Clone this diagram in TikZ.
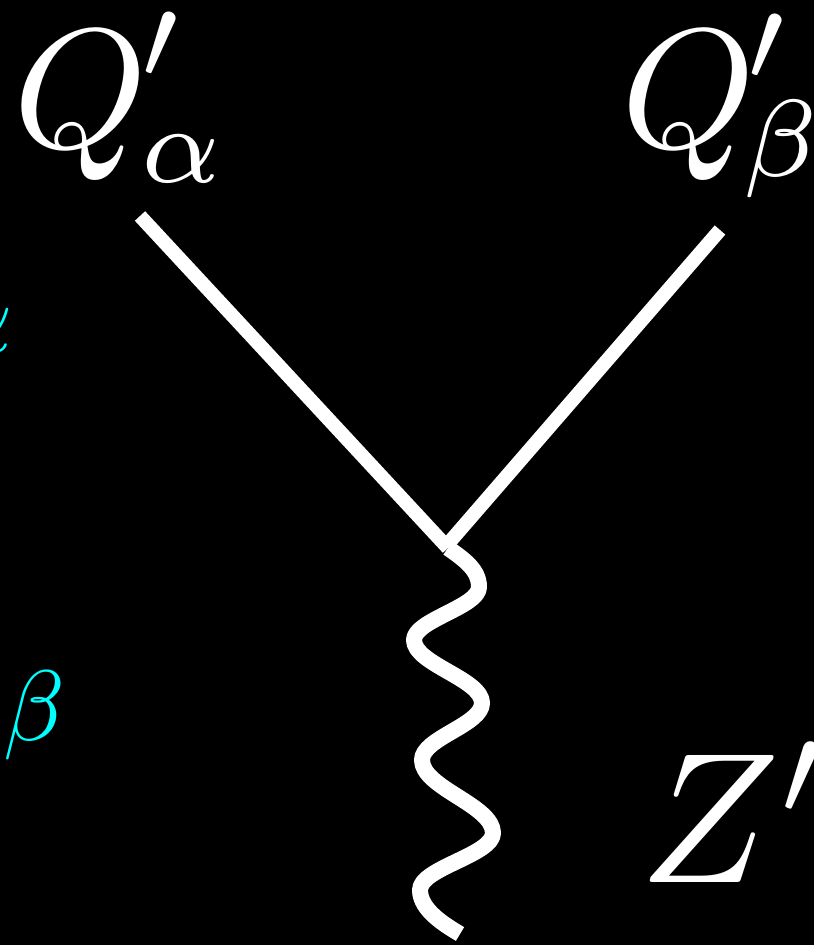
\documentclass[tikz,border=0pt]{standalone}
\usepackage{graphicx}
\usepackage{xcolor}
\definecolor{cy}{RGB}{0,255,255}
\newcommand{\supsh}[3]{\kern#1\raisebox{#2}{\smash{$\scriptstyle#3$}}}
\newcommand{\subsh}[3]{\kern#1\raisebox{#2}{\smash{\scalebox{0.92}{$\scriptstyle#3$}}}}
\tikzset{
  leg/.style={draw=white, line width=14pt, line cap=butt},
  wave/.style={draw=white, line width=16pt, line cap=butt, line join=round},
  bigmath/.style={text=white, inner sep=0pt, anchor=base west},
  cymath/.style={text=cy, inner sep=0pt, anchor=base west}
}
\begin{document}
\begin{tikzpicture}[x=1pt,y=-1pt]
  \fill[black] (0,0) rectangle (814,945);
  \useasboundingbox (0,0) rectangle (814,945);
  \clip (0,0) rectangle (814,945);
  % labels
  \node[bigmath, scale=17] (qa) at (10,147) {$Q^{\supsh{-0.41pt}{0.41pt}{\prime}}_{\subsh{-0.41pt}{0.41pt}{\alpha}}$};
  \node[bigmath, scale=17] (qb) at (618,147) {$Q^{\supsh{-0.53pt}{0.3pt}{\prime}}_{\subsh{-0.76pt}{0.76pt}{\beta}}$};
  \node[bigmath, scale=18.6] (zp) at (636,882) {$Z'$};
  \node[cymath, scale=11] (ca) at (-60,351) {$\alpha$};
  \node[cymath, scale=10] (cb) at (2,740) {$\beta$};
  % lines
  \coordinate (a) at (140,216);
  \coordinate (b) at (720,230);
  \coordinate (v) at (448,548);
  \coordinate (w) at (460,934);
  \draw[leg] (a) -- (v);
  \draw[leg] (b) -- (447,545);
  \draw[wave] (v) .. controls (465,560) and (479,570) .. (479,587)
    .. controls (479,607) and (414,620) .. (414,640)
    .. controls (414,664) and (482,679) .. (482,703)
    .. controls (482,725) and (422,738) .. (422,760)
    .. controls (422,788) and (493,805) .. (493,833)
    .. controls (493,855) and (420,868) .. (420,890)
    .. controls (420,910) and (445,925) .. (w);
\end{tikzpicture}
\end{document}
